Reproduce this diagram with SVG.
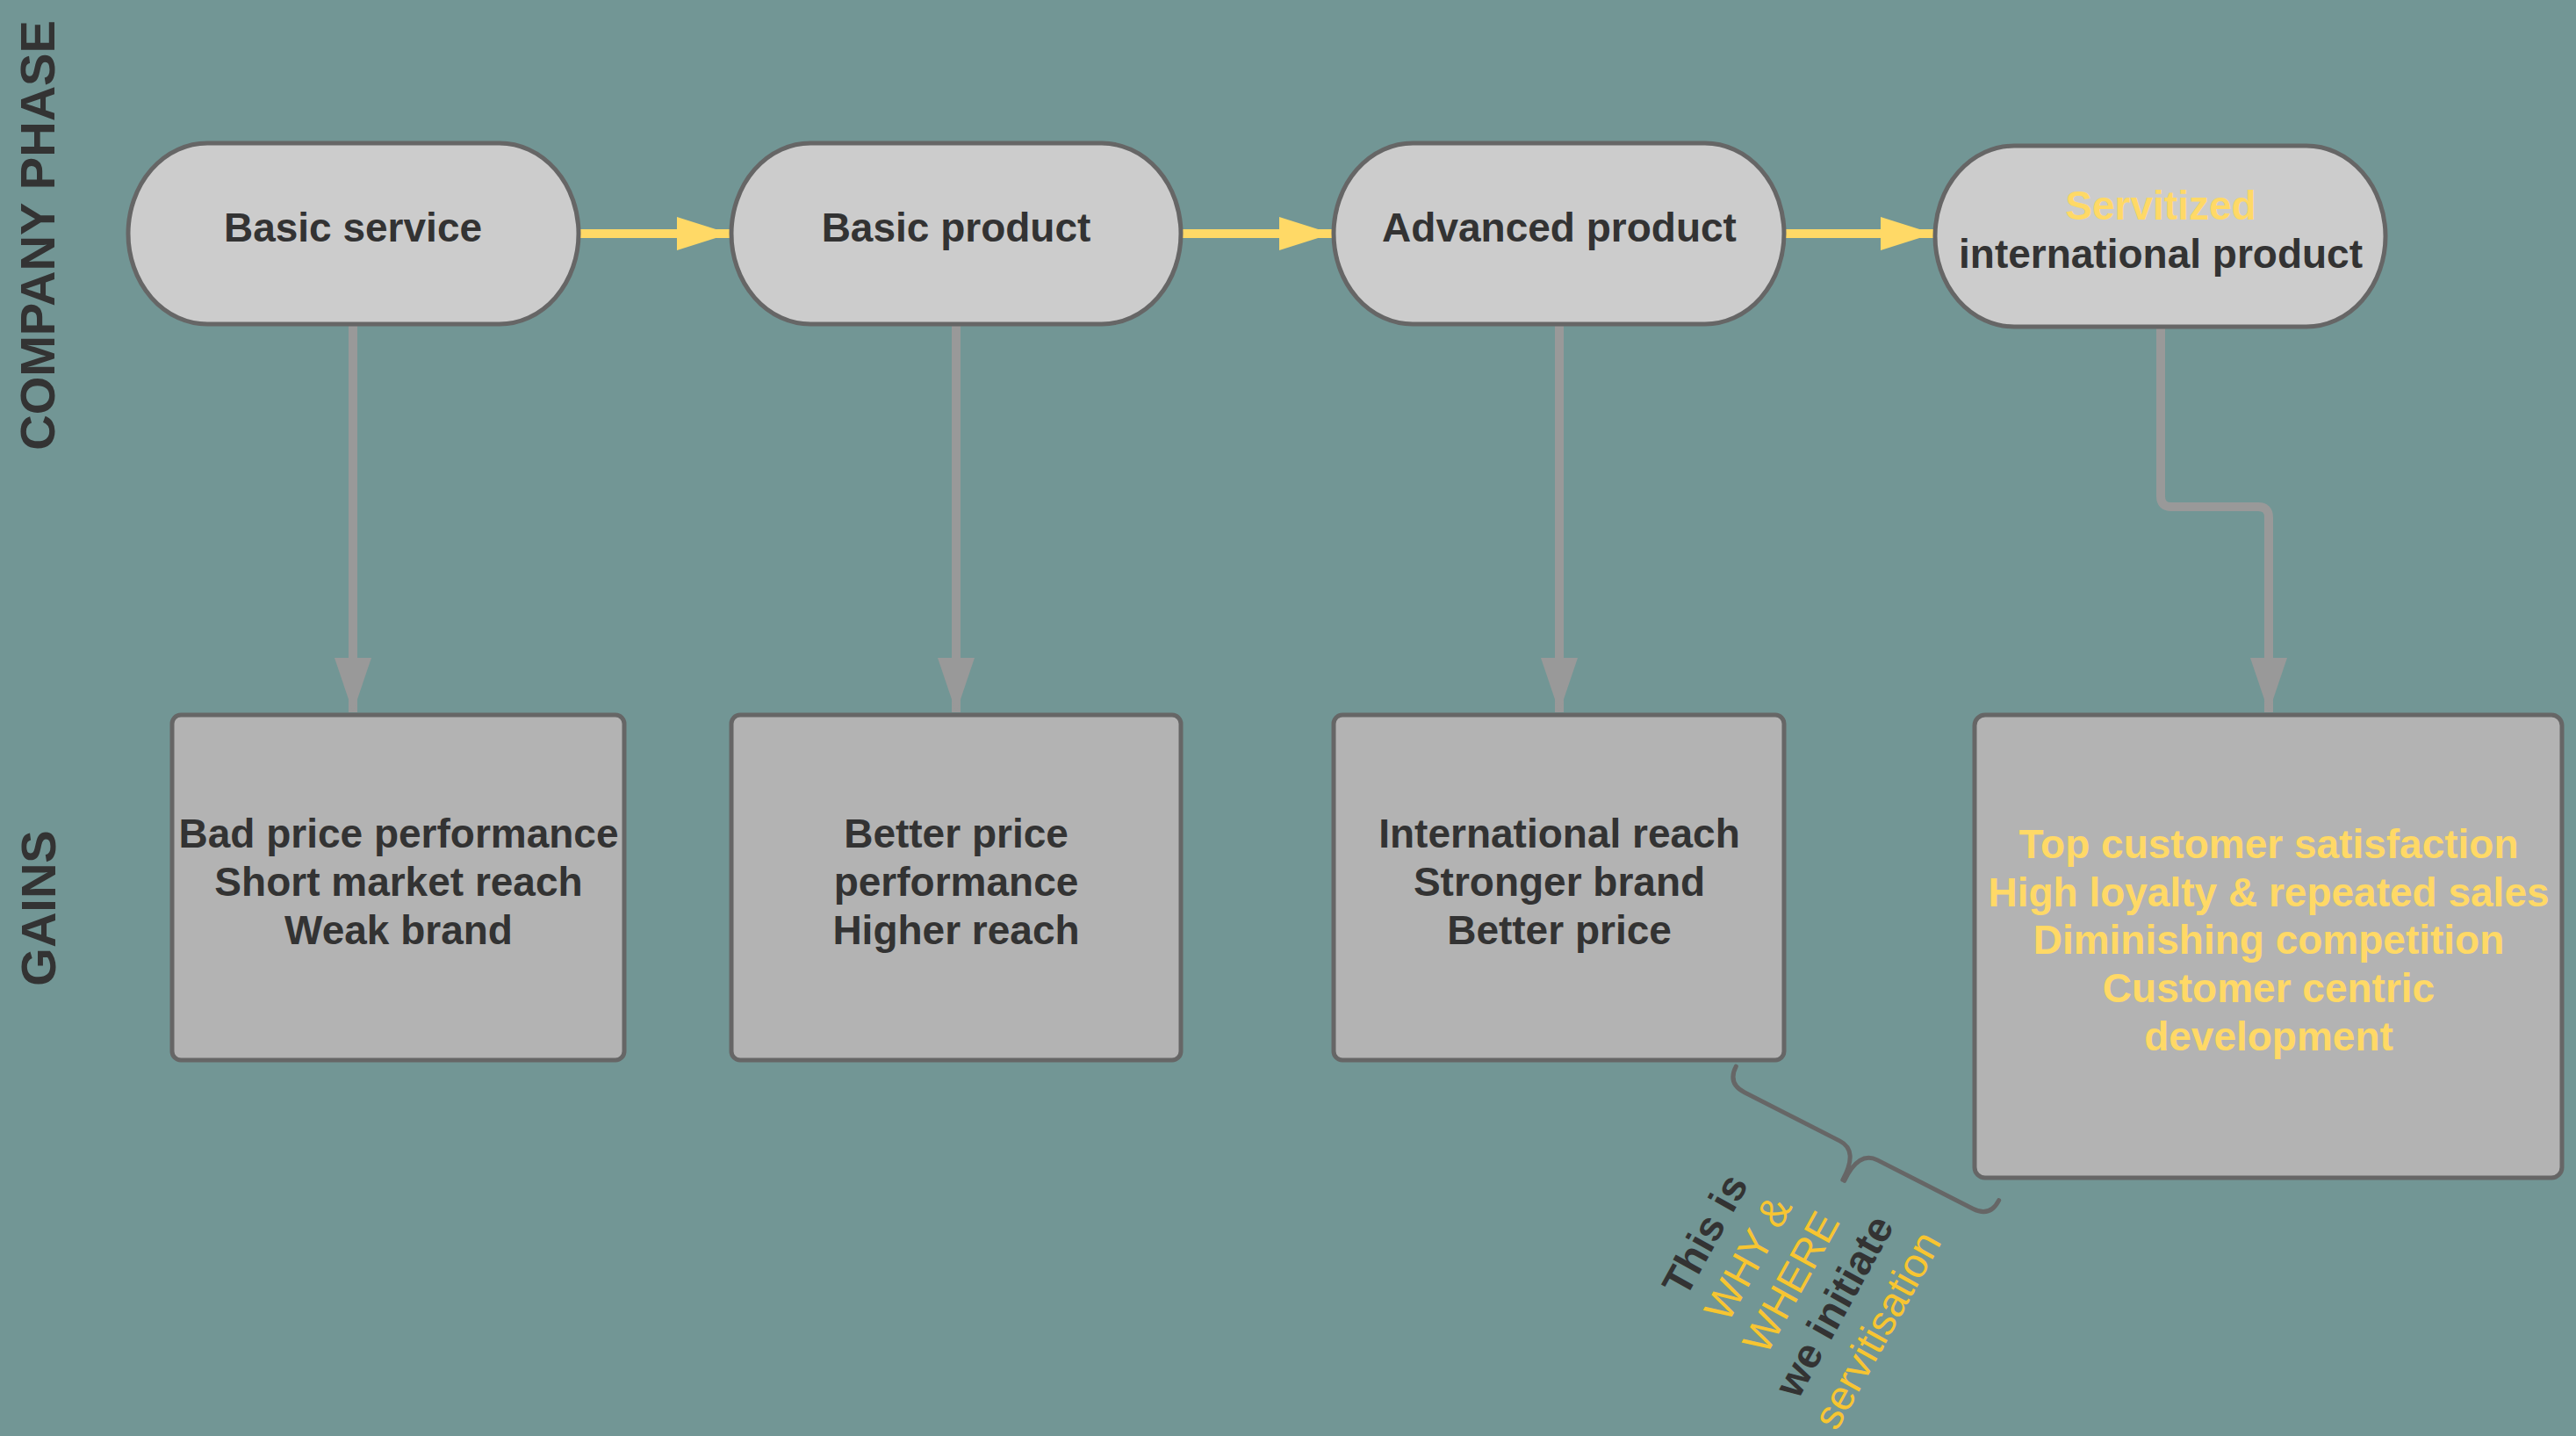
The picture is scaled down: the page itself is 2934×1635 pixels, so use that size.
<svg xmlns="http://www.w3.org/2000/svg" width="2934" height="1635" viewBox="0 0 2934 1635">
<style>
.bg{fill:#729695}
.pill{fill:#cccccc;stroke:#666666;stroke-width:5}
.box{fill:#b3b3b3;stroke:#666666;stroke-width:5}
.t{font-family:"Liberation Sans",Arial,sans-serif;font-weight:bold;font-size:46px;fill:#333333;text-anchor:middle}
.y{fill:#ffd966}
.side{font-family:"Liberation Sans",Arial,sans-serif;font-weight:bold;font-size:56px;fill:#333333;text-anchor:middle}
.ya{stroke:#ffd966;stroke-width:10;fill:none}
.ga{stroke:#999999;stroke-width:10;fill:none}
.note{font-family:"Liberation Sans",Arial,sans-serif;font-size:47px;fill:#333333;text-anchor:middle}
.nb{font-weight:bold}
.no{fill:#f7c531}
</style>
<defs>
<marker id="ahy" viewBox="0 0 60 38" refX="60" refY="19" markerWidth="60" markerHeight="38" markerUnits="userSpaceOnUse" orient="auto"><path d="M0,0 L60,19 L0,38 Z" fill="#ffd966"/></marker>
<marker id="ahg" viewBox="0 0 62 42" refX="62" refY="21" markerWidth="62" markerHeight="42" markerUnits="userSpaceOnUse" orient="auto"><path d="M0,0 L62,21 L0,42 Z" fill="#999999"/></marker>
</defs>
<rect class="bg" x="0" y="0" width="2934" height="1635"/>
<text class="side" transform="translate(62,268) rotate(-90)">COMPANY PHASE</text>
<text class="side" transform="translate(63,1034) rotate(-90)">GAINS</text>
<g id="connectors">
<path class="ya" d="M659,266 H831" marker-end="url(#ahy)"/>
<path class="ya" d="M1345,266 H1517" marker-end="url(#ahy)"/>
<path class="ya" d="M2032,266 H2202" marker-end="url(#ahy)"/>
<path class="ga" d="M402,369 V811" marker-end="url(#ahg)"/>
<path class="ga" d="M1089,369 V811" marker-end="url(#ahg)"/>
<path class="ga" d="M1776,369 V811" marker-end="url(#ahg)"/>
<path class="ga" d="M2461,372 V565 Q2461,577 2473,577 H2572 Q2584,577 2584,589 V811" marker-end="url(#ahg)"/>
</g>
<g id="n1"><rect class="pill" x="146" y="163" width="513" height="206" rx="90" ry="103"/><text class="t" x="402" y="275">Basic service</text></g>
<g id="n2"><rect class="pill" x="833" y="163" width="512" height="206" rx="90" ry="103"/><text class="t" x="1089" y="275">Basic product</text></g>
<g id="n3"><rect class="pill" x="1519" y="163" width="513" height="206" rx="90" ry="103"/><text class="t" x="1776" y="275">Advanced product</text></g>
<g id="n4"><rect class="pill" x="2204" y="166" width="513" height="206" rx="90" ry="103"/><text class="t" x="2461" y="250"><tspan class="y">Servitized</tspan></text><text class="t" x="2461" y="305">international product</text></g>
<g id="g1"><rect class="box" x="196" y="814" width="515" height="393" rx="10"/><text class="t" x="454" y="965">Bad price performance</text><text class="t" x="454" y="1020">Short market reach</text><text class="t" x="454" y="1075">Weak brand</text></g>
<g id="g2"><rect class="box" x="833" y="814" width="512" height="393" rx="10"/><text class="t" x="1089" y="965">Better price</text><text class="t" x="1089" y="1020">performance</text><text class="t" x="1089" y="1075">Higher reach</text></g>
<g id="g3"><rect class="box" x="1519" y="814" width="513" height="393" rx="10"/><text class="t" x="1776" y="965">International reach</text><text class="t" x="1776" y="1020">Stronger brand</text><text class="t" x="1776" y="1075">Better price</text></g>
<g id="g4"><rect class="box" x="2249" y="814" width="669" height="527" rx="12"/><text class="t y" x="2584" y="977">Top customer satisfaction</text><text class="t y" x="2584" y="1032">High loyalty &amp; repeated sales</text><text class="t y" x="2584" y="1086">Diminishing competition</text><text class="t y" x="2584" y="1141">Customer centric</text><text class="t y" x="2584" y="1196">development</text></g>
<g id="brace"><path transform="translate(2117,1310) rotate(27)" d="M-168,-22 Q-168,0 -146,0 L-24,0 Q0,0 -1,38 M1,38 Q0,0 24,0 L146,0 Q168,0 168,-22" fill="none" stroke="#666666" stroke-width="5" stroke-linecap="round"/></g>
<g id="note"><text class="note" transform="translate(2040,1460) rotate(-61)"><tspan x="0" y="-96" class="nb">This is</tspan><tspan x="0" y="-40" class="no">WHY &amp;</tspan><tspan x="0" y="16" class="no">WHERE</tspan><tspan x="0" y="72" class="nb">we initiate</tspan><tspan x="0" y="128" class="no">servitisation</tspan></text></g>
</svg>
